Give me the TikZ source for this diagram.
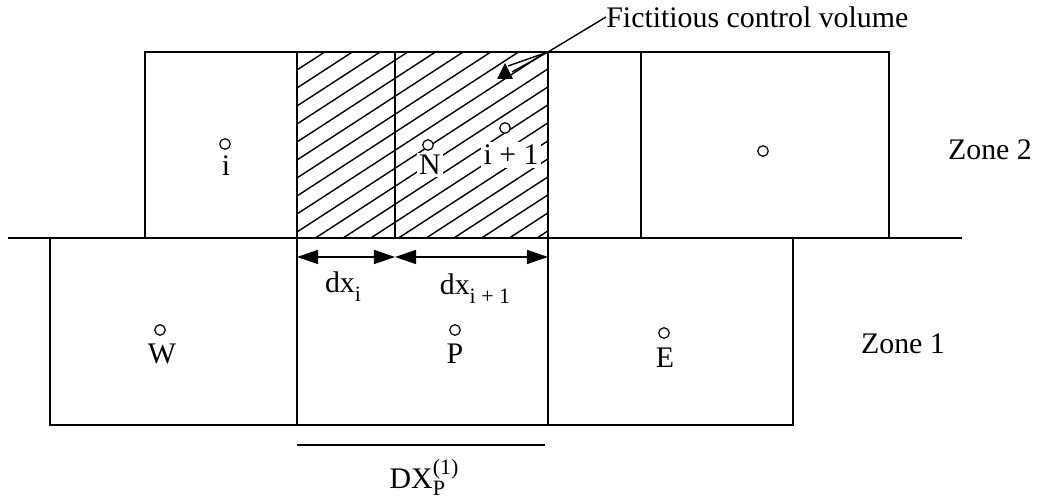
\documentclass[tikz,border=0pt]{standalone}
\usepackage{fontspec}
\setmainfont{Liberation Serif}
\usetikzlibrary{arrows.meta}
\newcommand{\mysub}[1]{\raisebox{-5pt}{\fontsize{12.5}{13}\selectfont #1}}
\newcommand{\mysup}[1]{\raisebox{8pt}{\fontsize{12.5}{13}\selectfont #1}}
\tikzset{
  cell/.style={draw, line width=1pt},
  hatchline/.style={line width=0.8pt},
  lbl/.style={inner sep=0pt, font=\fontsize{17}{20}\selectfont},
  pt/.style={circle, draw, fill=white, line width=0.7pt, inner sep=0pt, minimum size=6pt},
  dim/.style={line width=0.8pt, {Triangle[length=12pt,width=8pt]}-{Triangle[length=12pt,width=8pt]}}
}
\begin{document}
\begin{tikzpicture}[x=0.02cm,y=-0.02cm]
\useasboundingbox (0,0) rectangle (1037,502);
% hatching
\begin{scope}
\clip (297,52) rectangle (548,238);
\foreach \k in {-30,...,40} {
  \draw[hatchline] (297,52+18*\k) -- ++(300,-195);
}
\end{scope}
% zone 2 cells
\draw[cell] (145,238) -- (145,52) -- (889,52) -- (889,238);
\draw[cell] (297,52) -- (297,238);
\draw[cell] (395,52) -- (395,238);
\draw[cell] (548,52) -- (548,238);
\draw[cell] (641,52) -- (641,238);
% interface
\draw[cell] (8,238) -- (962,238);
% zone 1 cells
\draw[cell] (50,238) -- (50,425) -- (793,425) -- (793,238);
\draw[cell] (297,238) -- (297,425);
\draw[cell] (548,238) -- (548,425);
% dimension arrows
\coordinate (a0) at (297,257);
\coordinate (a1) at (395,257);
\coordinate (a2) at (548,257);
\draw[dim] (a0) -- (a1);
\draw[dim] (a1) -- (a2);
\node[lbl] (dxi) at (343,287) {dx\mysub{i}};
\node[lbl] (dxi1) at (475,289) {dx\mysub{i + 1}};
% DX line
\coordinate (d0) at (297,445);
\coordinate (d1) at (545,445);
\draw[line width=1pt] (d0) -- (d1);
\node[lbl] (DX) at (424,477) {DX\rlap{\raisebox{-4pt}{\fontsize{12.5}{13}\selectfont P}}\mysup{(1)}};
% points
\node[pt] (ci) at (225,144) {};
\node[lbl] (li) at (226,166) {i};
\node[pt] (cN) at (428,145) {};
\node[lbl, fill=white, inner sep=1.5pt] (lN) at (430,165) {N};
\node[pt] (ci1) at (505,128) {};
\node[lbl, fill=white, inner sep=1.5pt] (li1) at (511,155) {i + 1};
\node[pt] (cR) at (763,151) {};
\node[pt] (cW) at (160,330) {};
\node[lbl] (lW) at (162,354) {W};
\node[pt] (cP) at (455,330) {};
\node[lbl] (lP) at (455,354) {P};
\node[pt] (cE) at (664,333) {};
\node[lbl] (lE) at (665,358) {E};
% zone labels
\node[lbl] (z2) at (990,150) {Zone 2};
\node[lbl] (z1) at (903,344) {Zone 1};
% fictitious control volume
\node[lbl, anchor=west] (fcv) at (606,17) {Fictitious control volume};
\coordinate (corner) at (548,52);
\draw[line width=0.8pt] (fcv.west) -- (corner);
\draw[line width=0.8pt] (corner) -- (508,66);
\draw[line width=0.8pt] (corner) -- (512,72);
\fill (497,79) -- (513,79) -- (505,63) -- cycle;
\end{tikzpicture}
\end{document}
